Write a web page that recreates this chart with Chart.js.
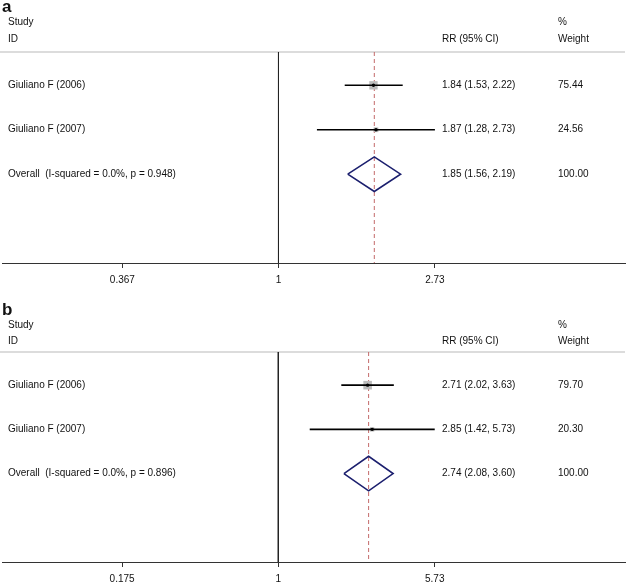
<!DOCTYPE html>
<html>
<head>
<meta charset="utf-8">
<script src="https://cdn.jsdelivr.net/npm/chart.js@4"></script>
<style>
    html, body { margin: 0; padding: 0; background: #fff; overflow: hidden; }
    canvas { display: block; }
</style>
</head>
<body>
<canvas id="chartA" width="627" height="300"></canvas>
<canvas id="chartB" width="627" height="300"></canvas>
<script>
// study data
const studies = ['Giuliano F (2006)', 'Giuliano F (2007)'];

// panel a
const rrA = [1.84, 1.87];
const lowA = [1.53, 1.28];
const highA = [2.22, 2.73];
const weightA = [75.44, 24.56];
const overallA = [1.85, 1.56, 2.19]; // estimate, low, high
const overallTextA = 'Overall  (I-squared = 0.0%, p = 0.948)';
const ticksA = [0.367, 1, 2.73];
const tickLabelsA = ['0.367', '1', '2.73'];

// panel b
const rrB = [2.71, 2.85];
const lowB = [2.02, 1.42];
const highB = [3.63, 5.73];
const weightB = [79.70, 20.30];
const overallB = [2.74, 2.08, 3.60];
const overallTextB = 'Overall  (I-squared = 0.0%, p = 0.896)';
const ticksB = [0.175, 1, 5.73];
const tickLabelsB = ['0.175', '1', '5.73'];

const FONT = "'Liberation Sans', Arial, sans-serif";
const Y_TOP = 0.25;
const Y_BOTTOM = 5;

function fmt(v) {
    return v.toFixed(2);
}

function makeForest(canvasId, cfg) {
    const ctx = document.getElementById(canvasId).getContext('2d');
    const rows = studies.map((s, i) => i + 1);
    const overallRow = studies.length + 1;
    const datasets = [];

    // null line at 1
    datasets.push({
        type: 'line',
        order: 5,
        data: [{ x: 1, y: Y_TOP }, { x: 1, y: Y_BOTTOM }],
        borderColor: '#222',
        borderWidth: 1,
        pointRadius: 0
    });
    // overall estimate dashed line
    datasets.push({
        type: 'line',
        order: 4,
        data: [{ x: cfg.overall[0], y: Y_TOP }, { x: cfg.overall[0], y: Y_BOTTOM }],
        borderColor: '#c46a6a',
        borderWidth: 1,
        borderDash: [4, 3],
        pointRadius: 0
    });
    // weight boxes
    datasets.push({
        type: 'scatter',
        order: 3,
        data: rows.map((r, i) => ({ x: cfg.rr[i], y: r })),
        pointStyle: 'rect',
        pointRadius: cfg.weight.map(w => 0.68 * Math.sqrt(w)),
        backgroundColor: '#bcbcbc',
        borderWidth: 0
    });
    // confidence intervals
    rows.forEach((r, i) => {
        datasets.push({
            type: 'line',
            order: 2,
            data: [{ x: cfg.low[i], y: r }, { x: cfg.high[i], y: r }],
            borderColor: '#000',
            borderWidth: 1.6,
            pointRadius: 0
        });
    });
    // point estimates
    datasets.push({
        type: 'scatter',
        order: 1,
        data: rows.map((r, i) => ({ x: cfg.rr[i], y: r })),
        pointStyle: 'circle',
        pointRadius: 1.7,
        backgroundColor: '#000',
        borderWidth: 0
    });
    // overall diamond
    const h = 0.39;
    datasets.push({
        type: 'line',
        order: 0,
        data: [
            { x: cfg.overall[1], y: overallRow },
            { x: cfg.overall[0], y: overallRow - h },
            { x: cfg.overall[2], y: overallRow },
            { x: cfg.overall[0], y: overallRow + h },
            { x: cfg.overall[1], y: overallRow }
        ],
        borderColor: '#1b1f6e',
        borderWidth: 1.6,
        pointRadius: 0,
        tension: 0
    });

    const textPlugin = {
        id: 'forestText',
        beforeDatasetsDraw(chart) {
            const c = chart.ctx;
            const area = chart.chartArea;
            c.save();
            c.strokeStyle = '#dcdcdc';
            c.lineWidth = 2;
            c.beginPath();
            c.moveTo(0, area.top);
            c.lineTo(chart.width - 2, area.top);
            c.stroke();
            c.restore();
        },
        afterDraw(chart) {
            const c = chart.ctx;
            const y = chart.scales.y;
            c.save();
            c.fillStyle = '#111';
            c.textBaseline = 'middle';
            c.textAlign = 'left';
            c.font = 'bold 17px ' + FONT;
            c.fillText(cfg.letter, 2, cfg.letterY);
            c.font = '10px ' + FONT;
            c.fillText('Study', 8, cfg.head1);
            c.fillText('ID', 8, cfg.head2);
            c.fillText('RR (95% CI)', 442, cfg.head2);
            c.fillText('%', 558, cfg.head1);
            c.fillText('Weight', 558, cfg.head2);
            rows.forEach((r, i) => {
                const py = y.getPixelForValue(r);
                c.fillText(studies[i], 8, py);
                c.fillText(fmt(cfg.rr[i]) + ' (' + fmt(cfg.low[i]) + ', ' + fmt(cfg.high[i]) + ')', 442, py);
                c.fillText(fmt(cfg.weight[i]), 558, py);
            });
            const oy = y.getPixelForValue(overallRow);
            const totalW = cfg.weight.reduce((a, b) => a + b, 0);
            c.fillText(cfg.overallText, 8, oy);
            c.fillText(fmt(cfg.overall[0]) + ' (' + fmt(cfg.overall[1]) + ', ' + fmt(cfg.overall[2]) + ')', 442, oy);
            c.fillText(fmt(totalW), 558, oy);
            c.restore();
        }
    };

    return new Chart(ctx, {
        data: { datasets: datasets },
        options: {
            responsive: false,
            animation: false,
            layout: { autoPadding: false, padding: { top: 52, left: 2, right: 2, bottom: 0 } },
            plugins: {
                legend: { display: false },
                tooltip: { enabled: false }
            },
            scales: {
                x: {
                    type: 'logarithmic',
                    position: 'bottom',
                    bounds: 'data',
                    min: cfg.min,
                    max: cfg.max,
                    afterBuildTicks: function (scale) {
                        scale.ticks = cfg.ticks.map(v => ({ value: v }));
                    },
                    afterFit: function (scale) {
                        scale.height = cfg.axisHeight;
                    },
                    ticks: {
                        autoSkip: false,
                        maxRotation: 0,
                        padding: 6,
                        color: '#111',
                        font: { family: FONT, size: 10 },
                        callback: function (value, index) {
                            return cfg.tickLabels[index];
                        }
                    },
                    grid: {
                        drawOnChartArea: false,
                        drawTicks: true,
                        tickLength: 5,
                        color: '#333'
                    },
                    border: { display: true, color: '#333', width: 1 }
                },
                y: {
                    type: 'linear',
                    display: false,
                    reverse: true,
                    min: Y_TOP,
                    max: Y_BOTTOM
                }
            }
        },
        plugins: [textPlugin]
    });
}

makeForest('chartA', {
    letter: 'a', letterY: 7, head1: 22, head2: 39,
    rr: rrA, low: lowA, high: highA, weight: weightA,
    overall: overallA, overallText: overallTextA,
    ticks: ticksA, tickLabels: tickLabelsA,
    min: 0.1695, max: 9.25, axisHeight: 37
});

makeForest('chartB', {
    letter: 'b', letterY: 10, head1: 25, head2: 41,
    rr: rrB, low: lowB, high: highB, weight: weightB,
    overall: overallB, overallText: overallTextB,
    ticks: ticksB, tickLabels: tickLabelsB,
    min: 0.0458, max: 47.9, axisHeight: 38
});
</script>
</body>
</html>
